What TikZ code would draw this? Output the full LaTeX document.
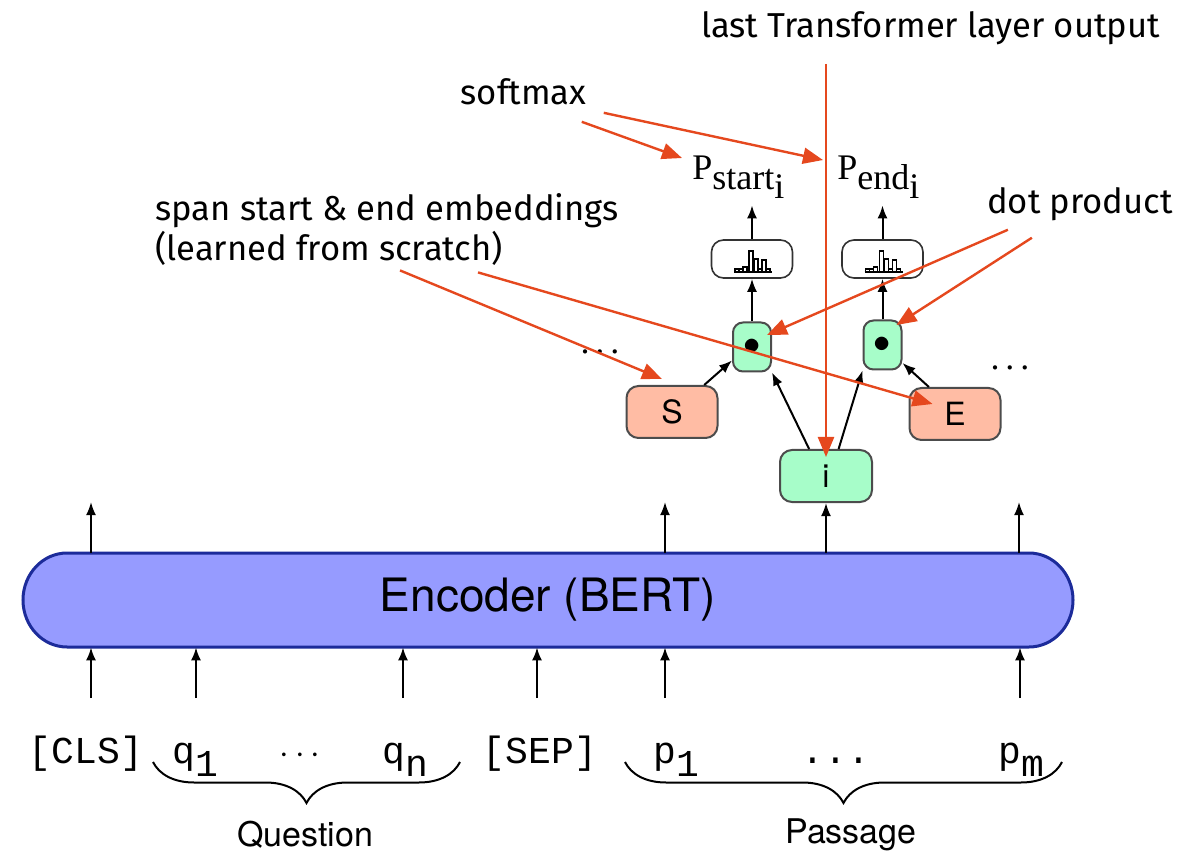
\documentclass[tikz,border=0pt]{standalone}
\usepackage{fontspec}
\setmainfont{Fira Sans}
\newfontfamily\heros{TeX Gyre Heros}
\newfontfamily\timesf{Liberation Serif}
\newfontfamily\courier{Liberation Mono}
\usetikzlibrary{arrows.meta,positioning,calc,decorations.pathreplacing}
\definecolor{encblue}{HTML}{969BFF}
\definecolor{encedge}{HTML}{1C2B9A}
\definecolor{vecgreen}{HTML}{A7FDC9}
\definecolor{embsalmon}{HTML}{FFBCA4}
\definecolor{annot}{HTML}{E5481E}
\tikzset{
    blk/.style={draw=black!70, line width=1pt, rounded corners=6pt, inner sep=0pt,
            font=\heros\fontsize{16}{16}\selectfont},
    vec/.style={blk, fill=vecgreen, minimum width=46pt, minimum height=26pt},
    emb/.style={blk, fill=embsalmon, minimum width=45.5pt, minimum height=26pt},
    dotvec/.style={blk, fill=vecgreen, minimum width=19pt, minimum height=24.5pt, rounded corners=5pt},
    smax/.style={draw=black!80, line width=0.8pt, rounded corners=6pt, fill=white,
            minimum width=40.5pt, minimum height=19pt},
    tok/.style={font=\courier\fontsize{19}{19}\selectfont, anchor=base, inner sep=0pt},
    prob/.style={font=\timesf\fontsize{18}{18}\selectfont, inner sep=0pt, anchor=base west},
    note/.style={font=\fontsize{17.3}{20}\selectfont, inner sep=0pt, anchor=base},
    grplbl/.style={font=\heros\fontsize{17}{17}\selectfont, inner sep=0pt},
    arr/.style={-{Latex[length=6.5pt,width=5pt]}, line width=1pt},
    annarr/.style={draw=annot, -{Triangle[length=10pt,width=8pt]}, line width=1.2pt},
    grp/.style={decorate, decoration={brace, mirror, amplitude=20.5pt}, line width=1pt},
    hist/.pic={
        \draw[line width=.6pt] (-18,0) -- (20,0);
        \foreach \x/\h in {-15/3,-11/3,-7/5,-1/21,4/13,8/3,12/12,16/3}
            \draw[line width=.6pt] (\x-2,0) rectangle (\x+2,-\h);
    },
}

\begin{document}
\begin{tikzpicture}[x=0.5pt,y=-0.5pt]
\useasboundingbox (0,0) rectangle (1178,855);

\draw[fill=encblue, draw=encedge, line width=1.5pt] (67,553) -- (1029,553)
    arc[start angle=90, end angle=-90, x radius=22pt, y radius=23.5pt] -- (67,647)
    arc[start angle=270, end angle=90, x radius=22pt, y radius=23.5pt] -- cycle;
\node[minimum width=525pt, minimum height=47pt, inner sep=0pt,
    font=\heros\fontsize{23}{23}\selectfont] (enc) at (548,600) {Encoder (BERT)};

\node[tok] (cls) at (86,763) {[CLS]};
\node[tok] (q1) at (195,763) {q\raisebox{-.35em}{1}};
\node[tok] (qdots) at (300,763) {$\cdots$};
\node[tok] (qn) at (405,763) {q\raisebox{-.35em}{n}};
\node[tok] (sep) at (540,763) {[SEP]};
\node[tok] (p1) at (676,763) {p\raisebox{-.35em}{1}};
\node[tok] (pdots) at (836,763) {...};
\node[tok] (pm) at (1021,763) {p\raisebox{-.35em}{m}};

\coordinate (tokrow) at (0,698);
\coordinate (outrow) at (0,502);
\foreach \t/\d in {cls/2.5,q1/0.5,qn/-1,sep/-1.5,p1/-5.5,pm/-0.5}
    \draw[arr] ([xshift=\d pt]\t.base |- tokrow) -- ([xshift=\d pt]\t.base |- enc.south);
\foreach \t/\d in {cls/2.5,p1/-5.5,pm/-1}
    \draw[arr] ([xshift=\d pt]\t.base |- enc.north) -- ([xshift=\d pt]\t.base |- outrow);

\draw[grp] (153,762) -- (460,762);
\draw[grp] (625,762) -- (1062,762);
\node[grplbl] (qlbl) at (305,835) {Question};
\node[grplbl] (plbl) at (851,835) {Passage};

\node[vec] (tokI) at (826,476) {i};
\node[emb] (spanS) at (672,412) {S};
\node[emb] (spanE) at (955,414) {E};
\node[dotvec] (dotS) at (752,347) {$\bullet$};
\node[dotvec] (dotE) at (882.5,345) {$\bullet$};
\node[smax] (smS) at (752,259) {};
\node[smax] (smE) at (882.5,259) {};
\pic at ([yshift=-6.5pt]smS.center) {hist};
\pic at ([yshift=-6.5pt]smE.center) {hist};
\node[prob] (pS) at (692,180) {P\raisebox{-5pt}{start\raisebox{-4.5pt}{i}}};
\node[prob] (pE) at (837,180) {P\raisebox{-5pt}{end\raisebox{-4.5pt}{i}}};
\node[prob, anchor=base] (ldots) at (600,354) {.\hspace{3pt}.\hspace{3pt}.};
\node[prob, anchor=base] (rdots) at (1010,370) {.\hspace{3pt}.\hspace{3pt}.};

\draw[arr] (tokI |- enc.north) -- (tokI);
\draw[arr] (tokI.122) -- (dotS.south east);
\draw[arr] (tokI.65) -- (dotE.south west);
\draw[arr] (spanS.40) -- (dotS.214);
\draw[arr] (spanE.134) -- (dotE.318);
\draw[arr] (dotS) -- (smS);
\draw[arr] (dotE) -- (smE);
\draw[arr, shorten >=3pt] (smS) -- (smS |- pS.south);
\draw[arr, shorten >=3pt] (smE) -- (smE |- pE.south);

\node[note] (lto) at (930.5,38) {last Transformer layer output};
\node[note] (smlbl) at (523.5,105) {softmax};
\node[note, align=left, anchor=base west] (spanlbl) at (155,261)
    {span start \& end embeddings\\(learned from scratch)};
\node[note] (dplbl) at (1080,214) {dot product};

\draw[annarr] ([yshift=-9pt]lto.south -| tokI.north) -- ([yshift=-4pt]tokI.north);
\draw[annarr] ([xshift=-2.5pt,yshift=-8pt]smlbl.south east) -- ([xshift=-5pt,yshift=-1pt]pS.north west);
\draw[annarr] ([xshift=8.5pt,yshift=-3.5pt]smlbl.south east) -- ([xshift=-7pt,yshift=-2pt]pE.north west);
\draw[annarr] ([xshift=122.5pt,yshift=-2pt]spanlbl.south west) -- ([xshift=-5pt,yshift=3pt]spanS.north);
\draw[annarr] ([xshift=161.5pt,yshift=-3pt]spanlbl.south west) -- ([xshift=12pt,yshift=5pt]spanE.west);
\draw[annarr] ([xshift=10.5pt,yshift=-4pt]dplbl.south west) -- ([xshift=7.5pt,yshift=6pt]dotS.center);
\draw[annarr] ([xshift=22.5pt,yshift=-8pt]dplbl.south west) -- ([xshift=7pt,yshift=10pt]dotE.center);
\end{tikzpicture}
\end{document}
